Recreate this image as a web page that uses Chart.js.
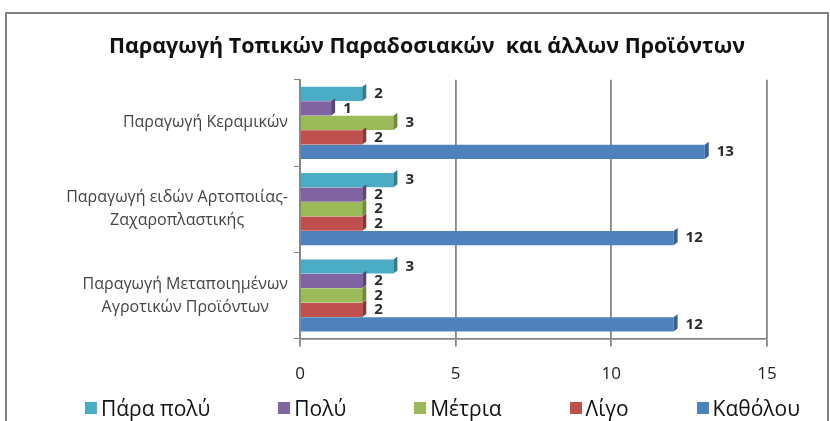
<!DOCTYPE html>
<html>
<head>
<meta charset="utf-8">
<script src="https://cdn.jsdelivr.net/npm/chart.js@4.4.1/dist/chart.umd.min.js"></script>
<style>
  body { margin: 0; background: #fff; width: 830px; height: 421px; overflow: hidden; position: relative; font-family: 'Open Sans', sans-serif; }
  #chart { position: absolute; left: 0; top: 0; }
  #frame { position: absolute; left: 5px; top: 12px; width: 820px; height: 420px; border: 2px solid #808080; border-bottom: none; pointer-events: none; }
  #legend { position: absolute; left: 85px; top: 396px; width: 715px; height: 24px; display: flex; justify-content: space-between; font-size: 21px; line-height: 24px; color: #111; }
  .item { display: flex; align-items: center; }
  .box { width: 12px; height: 12px; margin-right: 4px; }
</style>
</head>
<body>
<canvas id="chart" width="830" height="410"></canvas>
<div id="frame"></div>
<div id="legend"></div>
<script>
// Δεδομένα
const chartTitle = 'Παραγωγή Τοπικών Παραδοσιακών  και άλλων Προϊόντων';
const categories = [
  ['Παραγωγή Κεραμικών'],
  ['Παραγωγή ειδών Αρτοποιίας-', 'Ζαχαροπλαστικής'],
  ['Παραγωγή Μεταποιημένων', 'Αγροτικών Προϊόντων']
];
const seriesNames = ['Πάρα πολύ', 'Πολύ', 'Μέτρια', 'Λίγο', 'Καθόλου'];
const paraPoly = [2, 3, 3];
const poly = [1, 2, 2];
const metria = [3, 2, 2];
const ligo = [2, 2, 2];
const katholou = [13, 12, 12];
const xTicks = [0, 5, 10, 15];

const seriesColors = ['#4BACC6', '#8064A2', '#9BBB59', '#C0504D', '#4F81BD'];
const sideColors = ['#2f7d93', '#5a4478', '#6f8a38', '#8c3431', '#35609a'];
const font = "'Open Sans', sans-serif";

// Τιμές δίπλα στις μπάρες + πλαϊνή όψη
const valueLabels = {
  id: 'valueLabels',
  afterDatasetsDraw(chart) {
    const ctx = chart.ctx;
    ctx.save();
    chart.data.datasets.forEach((ds, i) => {
      chart.getDatasetMeta(i).data.forEach((bar, j) => {
        const top = bar.y - bar.height / 2;
        const bottom = bar.y + bar.height / 2;
        ctx.fillStyle = sideColors[i];
        ctx.beginPath();
        ctx.moveTo(bar.x, top);
        ctx.lineTo(bar.x + 4, top - 3);
        ctx.lineTo(bar.x + 4, bottom - 3);
        ctx.lineTo(bar.x, bottom);
        ctx.closePath();
        ctx.fill();
        ctx.fillStyle = '#2a2a2a';
        ctx.font = 'bold 15px ' + font;
        ctx.textBaseline = 'middle';
        ctx.fillText(ds.data[j], bar.x + 12, bar.y);
      });
    });
    ctx.restore();
  }
};

// Ετικέτες κατηγοριών (στοιχισμένες όπως στο Excel)
const catLabels = {
  id: 'catLabels',
  afterDraw(chart) {
    const scale = chart.scales.y;
    const ctx = chart.ctx;
    ctx.save();
    ctx.font = '16px ' + font;
    ctx.fillStyle = '#444';
    ctx.textAlign = 'center';
    ctx.textBaseline = 'middle';
    categories.forEach((lines, i) => {
      const cy = scale.getPixelForValue(i);
      const w = Math.max(...lines.map(l => ctx.measureText(l).width));
      const cx = scale.right - 12 - w / 2;
      lines.forEach((l, k) => {
        ctx.fillText(l, cx, cy + (k - (lines.length - 1) / 2) * 23);
      });
    });
    ctx.restore();
  }
};

const values = [paraPoly, poly, metria, ligo, katholou];

new Chart(document.getElementById('chart'), {
  type: 'bar',
  data: {
    labels: categories,
    datasets: seriesNames.map((name, i) => ({
      label: name,
      data: values[i],
      backgroundColor: seriesColors[i],
      categoryPercentage: 0.84,
      barPercentage: 0.98
    }))
  },
  options: {
    indexAxis: 'y',
    responsive: false,
    animation: false,
    layout: { padding: { left: 87, right: 63, top: 0, bottom: 9 } },
    scales: {
      x: {
        min: 0,
        max: 15,
        afterBuildTicks: (scale) => { scale.ticks = xTicks.map(v => ({ value: v })); },
        grid: { color: '#858585', lineWidth: 1.8, tickLength: 8 },
        border: { color: '#858585', width: 1.8 },
        ticks: { font: { family: font, size: 17 }, color: '#222', padding: 17 }
      },
      y: {
        afterFit: (scale) => { scale.width = 213; },
        grid: { drawOnChartArea: false, color: '#858585', tickLength: 6 },
        border: { color: '#858585', width: 1.8 },
        ticks: { display: false }
      }
    },
    plugins: {
      legend: { display: false },
      tooltip: { enabled: false },
      title: {
        display: true,
        text: chartTitle,
        color: '#111',
        font: { family: font, size: 21.5, weight: 'bold' },
        padding: { top: 34, bottom: 20 }
      }
    }
  },
  plugins: [valueLabels, catLabels]
});

// Υπόμνημα
const legend = document.getElementById('legend');
legend.innerHTML = seriesNames.map((name, i) => `
  <div class="item"><span class="box" style="background:${seriesColors[i]}"></span>${name}</div>
`).join('');
</script>
</body>
</html>
